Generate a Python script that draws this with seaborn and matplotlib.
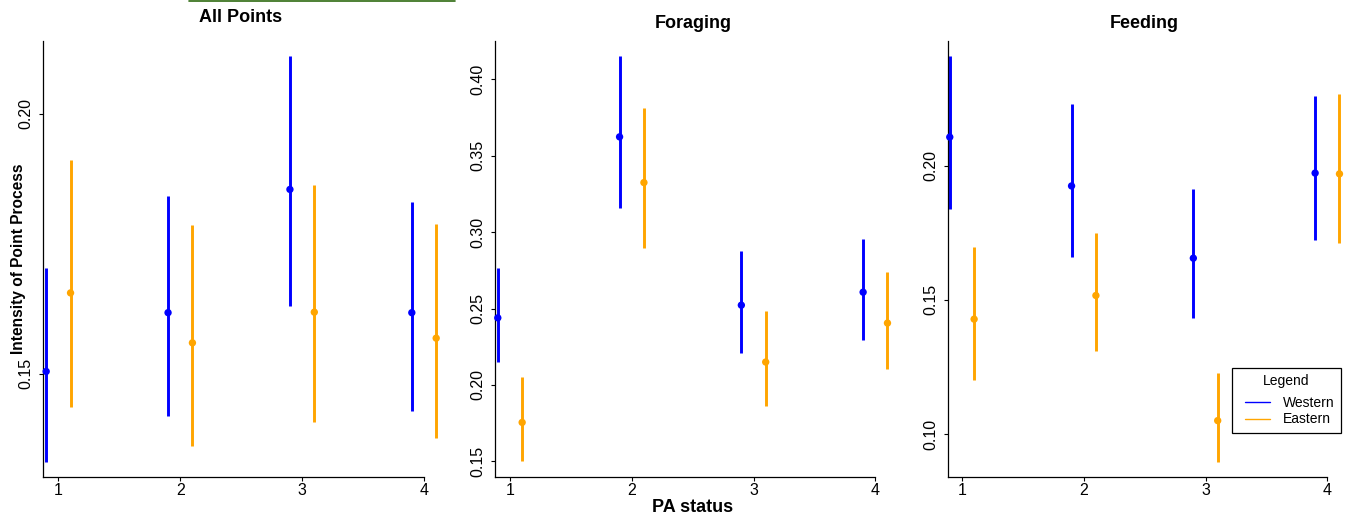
import numpy as np
import pandas as pd
import matplotlib
matplotlib.use("Agg")
import matplotlib.pyplot as plt
from matplotlib.lines import Line2D
from matplotlib.legend_handler import HandlerLine2D
import seaborn as sns

# ---------------- data ----------------
pa_status = [1, 2, 3, 4]
groups = ["Western", "Eastern"]
panel_titles = ["All Points", "Foraging", "Feeding"]

# All Points
all_west_est = [0.1504, 0.1617, 0.1854, 0.1617]
all_west_lo = [0.1329, 0.1418, 0.1629, 0.1428]
all_west_hi = [0.1703, 0.1841, 0.2110, 0.1829]
all_east_est = [0.1655, 0.1559, 0.1618, 0.1568]
all_east_lo = [0.1435, 0.1361, 0.1407, 0.1376]
all_east_hi = [0.1910, 0.1785, 0.1862, 0.1788]

# Foraging
for_west_est = [0.2439, 0.3623, 0.2522, 0.2607]
for_west_lo = [0.2147, 0.3157, 0.2206, 0.2294]
for_west_hi = [0.2766, 0.4152, 0.2879, 0.2958]
for_east_est = [0.1755, 0.3324, 0.2150, 0.2405]
for_east_lo = [0.1500, 0.2897, 0.1860, 0.2106]
for_east_hi = [0.2052, 0.3812, 0.2481, 0.2742]

# Feeding
fee_west_est = [0.2106, 0.1924, 0.1655, 0.1972]
fee_west_lo = [0.1839, 0.1659, 0.1432, 0.1721]
fee_west_hi = [0.2408, 0.2231, 0.1911, 0.2258]
fee_east_est = [0.1428, 0.1516, 0.1050, 0.1969]
fee_east_lo = [0.1200, 0.1311, 0.0897, 0.1710]
fee_east_hi = [0.1698, 0.1749, 0.1229, 0.2266]

y_ticks = [[0.15, 0.20], [0.15, 0.20, 0.25, 0.30, 0.35, 0.40], [0.10, 0.15, 0.20]]
y_limits = [(0.1301, 0.2140), (0.1398, 0.4252), (0.0840, 0.2465)]
x_left = [0.874, 0.877, 0.883]

panels = [
    (all_west_est, all_west_lo, all_west_hi, all_east_est, all_east_lo, all_east_hi),
    (for_west_est, for_west_lo, for_west_hi, for_east_est, for_east_lo, for_east_hi),
    (fee_west_est, fee_west_lo, fee_west_hi, fee_east_est, fee_east_lo, fee_east_hi),
]

palette = {"Western": "#0000FF", "Eastern": "#FFA500"}
offsets = {"Western": -0.1, "Eastern": 0.1}

# ---------------- style ----------------
sns.set_theme(style="ticks")
plt.rcParams["font.family"] = ["Liberation Sans", "DejaVu Sans"]
plt.rcParams["text.color"] = "black"
plt.rcParams["axes.labelcolor"] = "black"
plt.rcParams["xtick.color"] = "black"
plt.rcParams["ytick.color"] = "black"

W, H = 1347, 517
fig = plt.figure(figsize=(W / 100, H / 100), dpi=100)

ax_px = [(43, 424), (495, 875.3), (947.7, 1327.3)]
top_px, bot_px = 40.7, 477.0

title_x = [240.8, 693.3, 1144.7]
title_base = [21.5, 28.5, 28.5]

for i, (we, wl, wh, ee, el, eh) in enumerate(panels):
    l, r = ax_px[i]
    ax = fig.add_axes([l / W, 1 - bot_px / H, (r - l) / W, (bot_px - top_px) / H])
    df = pd.DataFrame({
        "status": pa_status * 2,
        "group": ["Western"] * 4 + ["Eastern"] * 4,
        "est": list(we) + list(ee),
        "lo": list(wl) + list(el),
        "hi": list(wh) + list(eh),
    })
    df["xpos"] = df["status"] + df["group"].map(offsets)
    for g in groups:
        sub = df[df["group"] == g]
        ax.vlines(sub["xpos"], sub["lo"], sub["hi"], colors=palette[g], lw=2.1,
                  clip_on=False, zorder=2)
    sns.scatterplot(data=df, x="xpos", y="est", hue="group", palette=palette,
                    s=28, edgecolor="none", legend=False, ax=ax, clip_on=False,
                    zorder=3)
    ax.set_xlim(x_left[i], 4.0)
    ax.set_ylim(*y_limits[i])
    ax.set_xticks(pa_status)
    ax.set_xticklabels([str(v) for v in pa_status])
    ax.set_yticks(y_ticks[i])
    ax.set_yticklabels([f"{v:.2f}" for v in y_ticks[i]], rotation=90, va="center")
    ax.set_xlabel("")
    ax.set_ylabel("")
    for side in ["top", "right"]:
        ax.spines[side].set_visible(False)
    for side in ["left", "bottom"]:
        ax.spines[side].set_linewidth(0.9)
        ax.spines[side].set_color("black")
    ax.tick_params(axis="both", length=3.2, width=0.8, colors="black",
                   labelsize=11.5)
    ax.tick_params(axis="y", pad=3.5)
    ax.tick_params(axis="x", pad=1)
    ax.patch.set_alpha(0)
    fig.text(title_x[i] / W, 1 - title_base[i] / H, panel_titles[i],
             ha="center", va="baseline", fontsize=13, fontweight="bold",
             color="black")

    if i == 2:
        handles = [Line2D([0], [0], color=palette[g], lw=1.0) for g in groups]
        leg = fig.legend(handles, groups, title="Legend",
                         loc="upper left",
                         bbox_to_anchor=(1232 / W, 1 - 367.7 / H),
                         fontsize=10, title_fontsize=10, frameon=True,
                         fancybox=False, edgecolor="black", framealpha=1,
                         handlelength=2.3, handletextpad=0.9,
                         labelspacing=0.2, borderpad=0.45, borderaxespad=0,
                         handler_map={Line2D: HandlerLine2D(xpad=0.5)})
        leg.get_frame().set_linewidth(0.9)
        leg._legend_box.sep = 5.5
        for t in leg.get_texts():
            t.set_color("black")
        leg.get_title().set_color("black")

fig.text(18.3 / W, 1 - 259 / H, "Intensity of Point Process", rotation=90,
         ha="center", va="center", fontsize=11.2, fontweight="bold",
         color="black")
fig.text(692.5 / W, 1 - 511.5 / H, "PA status", ha="center", va="baseline",
         fontsize=13, fontweight="bold", color="black")

# thin green line at the very top of the reference
fig.add_artist(Line2D([189 / W, 455 / W], [1 - 0.8 / H, 1 - 0.8 / H],
                      transform=fig.transFigure, color="#2f6b12", lw=1.2))

fig.savefig("out.png", dpi=100)
